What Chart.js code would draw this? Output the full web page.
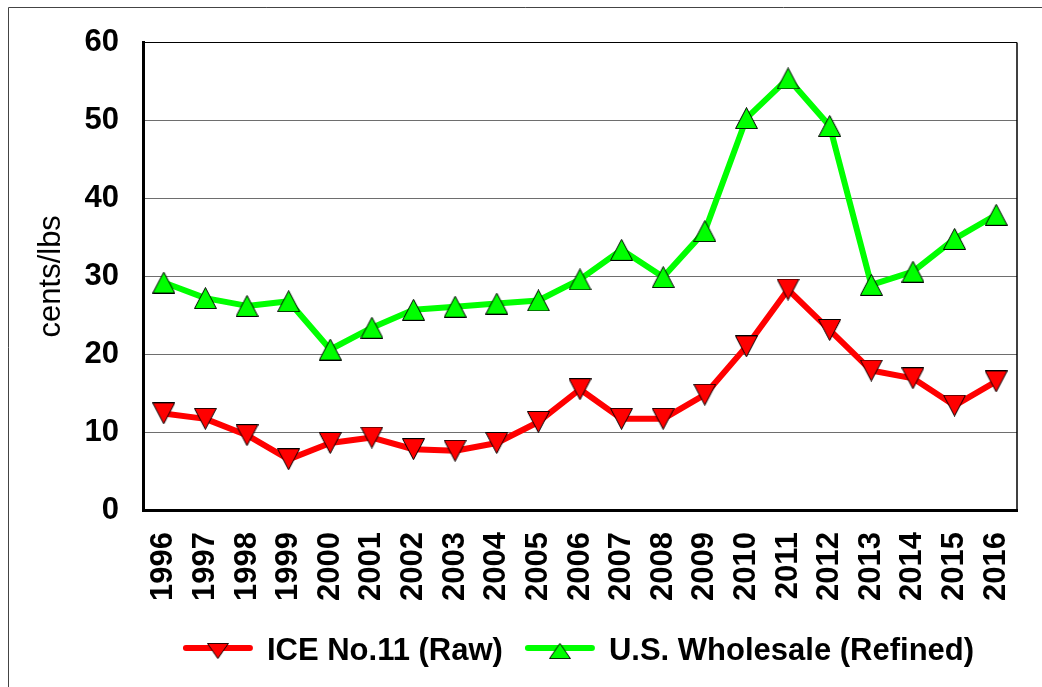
<!DOCTYPE html>
<html lang="en">
<head>
    <meta charset="UTF-8">
    <title>ICE No.11 vs U.S. Wholesale</title>
    <script src="https://cdn.jsdelivr.net/npm/chart.js"></script>
    <style>
        body { margin: 0; background: #fff; }
        #wrap { width: 1042px; height: 687px; }
    </style>
</head>
<body>
<div id="wrap"><canvas id="grafica" width="1042" height="687"></canvas></div>
<script>
    // Datos (centavos por libra)
    const years = ['1996', '1997', '1998', '1999', '2000', '2001', '2002', '2003', '2004', '2005', '2006',
                   '2007', '2008', '2009', '2010', '2011', '2012', '2013', '2014', '2015', '2016'];
    const iceRaw = [12.4, 11.7, 9.6, 6.5, 8.6, 9.3, 7.8, 7.6, 8.6, 11.3, 15.5,
                    11.7, 11.7, 14.8, 21.0, 28.3, 23.1, 17.9, 16.9, 13.4, 16.5];
    const usWholesale = [29.2, 27.2, 26.2, 26.8, 20.6, 23.4, 25.7, 26.1, 26.5, 26.9, 29.6,
                         33.4, 29.9, 35.8, 50.3, 55.4, 49.3, 28.9, 30.6, 34.8, 37.9];
    const yTicks = [0, 10, 20, 30, 40, 50, 60];
    const seriesNames = ['ICE No.11 (Raw)', 'U.S. Wholesale (Refined)'];

    const FONT = "'Liberation Sans', Arial, sans-serif";

    // triangulo con borde negro, apuntando hacia arriba
    function triangulo(color) {
        const c = document.createElement('canvas');
        c.width = 23; c.height = 22;
        const g = c.getContext('2d');
        g.beginPath();
        g.moveTo(11.5, 0.5);
        g.lineTo(22.5, 21.5);
        g.lineTo(0.5, 21.5);
        g.closePath();
        g.fillStyle = color;
        g.fill();
        g.lineWidth = 1;
        g.strokeStyle = '#000';
        g.stroke();
        return c;
    }
    const triRojo = triangulo('#ff0000');
    const triVerde = triangulo('#00ff00');

    // leyenda propia (linea + marcador) y bordes del marco
    const extras = {
        id: 'extras',
        afterDraw(chart) {
            const ctx = chart.ctx;
            const area = chart.chartArea;
            ctx.save();

            // marco exterior (solo arriba e izquierda)
            ctx.strokeStyle = '#444';
            ctx.lineWidth = 1;
            ctx.beginPath();
            ctx.moveTo(8.5, 687);
            ctx.lineTo(8.5, 7.5);
            ctx.lineTo(1042, 7.5);
            ctx.stroke();

            // borde derecho del area de trazado
            ctx.strokeStyle = '#000';
            ctx.lineWidth = 1.5;
            ctx.beginPath();
            ctx.moveTo(area.right, area.top);
            ctx.lineTo(area.right, area.bottom);
            ctx.stroke();

            // leyenda
            ctx.font = 'bold 31px ' + FONT;
            ctx.textBaseline = 'middle';
            const lineLen = 64, gapText = 17, gapItem = 25;
            const items = chart.data.datasets.map(ds => ({
                ds, w: lineLen + gapText + ctx.measureText(ds.label).width
            }));
            const total = items.reduce((s, it) => s + it.w, 0) + gapItem * (items.length - 1);
            let x = (area.left + area.right) / 2 - total / 2;
            const y = 648;
            items.forEach(it => {
                ctx.strokeStyle = it.ds.borderColor;
                ctx.lineWidth = 6;
                ctx.lineCap = 'round';
                ctx.beginPath();
                ctx.moveTo(x, y);
                ctx.lineTo(x + lineLen, y);
                ctx.stroke();
                const img = it.ds.pointStyle;
                ctx.save();
                ctx.translate(x + lineLen / 2, y + 3);
                ctx.rotate((it.ds.pointRotation || 0) * Math.PI / 180);
                ctx.drawImage(img, -11, -8, 22, 16);
                ctx.restore();
                ctx.fillStyle = '#000';
                ctx.fillText(it.ds.label, x + lineLen + gapText, y + 3);
                x += it.w + gapItem;
            });
            ctx.restore();
        }
    };

    new Chart(document.getElementById('grafica'), {
        type: 'line',
        data: {
            labels: years,
            datasets: [{
                label: seriesNames[0],
                data: iceRaw,
                borderColor: '#ff0000',
                borderWidth: 6,
                borderJoinStyle: 'round',
                pointStyle: triRojo,
                pointRotation: 180,
                tension: 0
            }, {
                label: seriesNames[1],
                data: usWholesale,
                borderColor: '#00ff00',
                borderWidth: 6,
                borderJoinStyle: 'round',
                pointStyle: triVerde,
                tension: 0
            }]
        },
        options: {
            responsive: false,
            animation: false,
            events: [],
            layout: { padding: { top: 42, right: 25, left: 0, bottom: 0 } },
            plugins: { legend: { display: false }, tooltip: { enabled: false } },
            scales: {
                x: {
                    offset: true,
                    grid: { display: false, drawTicks: false },
                    border: { display: true, color: '#000', width: 3 },
                    ticks: {
                        autoSkip: false,
                        minRotation: 90,
                        maxRotation: 90,
                        padding: 22,
                        color: '#000',
                        font: { family: FONT, size: 31, weight: 'bold' }
                    },
                    afterFit(scale) {
                        scale.height = 177;
                        scale.paddingLeft = 0;
                        scale.paddingRight = 0;
                    }
                },
                y: {
                    min: 0,
                    max: 60,
                    afterBuildTicks(scale) { scale.ticks = yTicks.map(v => ({ value: v })); },
                    grid: {
                        drawTicks: false,
                        color: ctx => ctx.tick && ctx.tick.value === 60 ? '#000' : '#6e6e6e',
                        lineWidth: 1
                    },
                    border: { display: true, color: '#000', width: 3 },
                    ticks: {
                        padding: 24,
                        color: '#000',
                        font: { family: FONT, size: 31, weight: 'bold' }
                    },
                    title: {
                        display: true,
                        text: 'cents/lbs',
                        color: '#000',
                        padding: { top: 33, bottom: 0 },
                        font: { family: FONT, size: 31 }
                    },
                    afterFit(scale) { scale.width = 143; }
                }
            }
        },
        plugins: [extras]
    });
</script>
</body>
</html>
